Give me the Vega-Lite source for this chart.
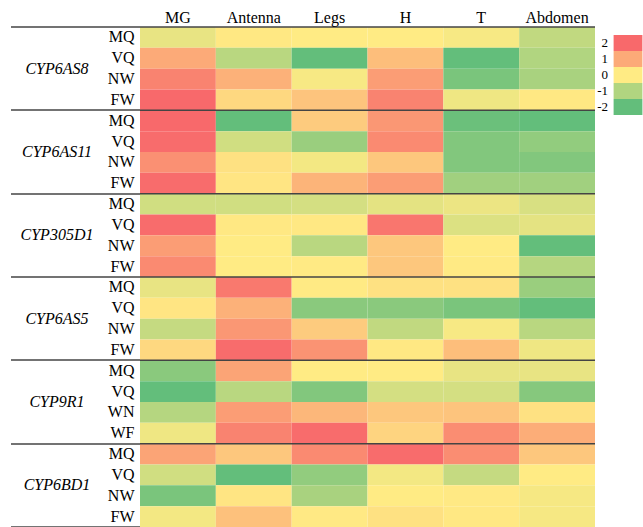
{
 "$schema": "https://vega.github.io/schema/vega-lite/v6.json",
 "autosize": {"type": "none"},
 "width": 455,
 "height": 500,
 "padding": {"left": 140, "top": 27, "right": 48, "bottom": 0},
 "background": "white",
 "config": {"view": {"stroke": null}},
 "datasets": {
  "genes": [{"g": "CYP6AS8"}, {"g": "CYP6AS11"}, {"g": "CYP305D1"}, {"g": "CYP6AS5"}, {"g": "CYP9R1"}, {"g": "CYP6BD1"}],
  "cells": [
   {"r": "CYP6AS8|MQ", "t": "MG", "v": -0.3}, {"r": "CYP6AS8|MQ", "t": "Antenna", "v": 0.05}, {"r": "CYP6AS8|MQ", "t": "Legs", "v": 0}, {"r": "CYP6AS8|MQ", "t": "H", "v": 0}, {"r": "CYP6AS8|MQ", "t": "T", "v": -0.1}, {"r": "CYP6AS8|MQ", "t": "Abdomen", "v": -0.8},
   {"r": "CYP6AS8|VQ", "t": "MG", "v": 1.0}, {"r": "CYP6AS8|VQ", "t": "Antenna", "v": -0.9}, {"r": "CYP6AS8|VQ", "t": "Legs", "v": -2}, {"r": "CYP6AS8|VQ", "t": "H", "v": 0.7}, {"r": "CYP6AS8|VQ", "t": "T", "v": -2}, {"r": "CYP6AS8|VQ", "t": "Abdomen", "v": -1.0},
   {"r": "CYP6AS8|NW", "t": "MG", "v": 1.6}, {"r": "CYP6AS8|NW", "t": "Antenna", "v": 0.9}, {"r": "CYP6AS8|NW", "t": "Legs", "v": -0.1}, {"r": "CYP6AS8|NW", "t": "H", "v": 1.2}, {"r": "CYP6AS8|NW", "t": "T", "v": -1.7}, {"r": "CYP6AS8|NW", "t": "Abdomen", "v": -1.1},
   {"r": "CYP6AS8|FW", "t": "MG", "v": 2}, {"r": "CYP6AS8|FW", "t": "Antenna", "v": 0.3}, {"r": "CYP6AS8|FW", "t": "Legs", "v": 0.6}, {"r": "CYP6AS8|FW", "t": "H", "v": 1.6}, {"r": "CYP6AS8|FW", "t": "T", "v": -0.2}, {"r": "CYP6AS8|FW", "t": "Abdomen", "v": 0.05},
   {"r": "CYP6AS11|MQ", "t": "MG", "v": 2}, {"r": "CYP6AS11|MQ", "t": "Antenna", "v": -2}, {"r": "CYP6AS11|MQ", "t": "Legs", "v": 0.5}, {"r": "CYP6AS11|MQ", "t": "H", "v": 1.3}, {"r": "CYP6AS11|MQ", "t": "T", "v": -1.9}, {"r": "CYP6AS11|MQ", "t": "Abdomen", "v": -2},
   {"r": "CYP6AS11|VQ", "t": "MG", "v": 1.95}, {"r": "CYP6AS11|VQ", "t": "Antenna", "v": -0.6}, {"r": "CYP6AS11|VQ", "t": "Legs", "v": -1.3}, {"r": "CYP6AS11|VQ", "t": "H", "v": 1.5}, {"r": "CYP6AS11|VQ", "t": "T", "v": -1.6}, {"r": "CYP6AS11|VQ", "t": "Abdomen", "v": -1.4},
   {"r": "CYP6AS11|NW", "t": "MG", "v": 1.4}, {"r": "CYP6AS11|NW", "t": "Antenna", "v": 0.15}, {"r": "CYP6AS11|NW", "t": "Legs", "v": -0.15}, {"r": "CYP6AS11|NW", "t": "H", "v": 0.55}, {"r": "CYP6AS11|NW", "t": "T", "v": -1.6}, {"r": "CYP6AS11|NW", "t": "Abdomen", "v": -1.6},
   {"r": "CYP6AS11|FW", "t": "MG", "v": 1.95}, {"r": "CYP6AS11|FW", "t": "Antenna", "v": 0.1}, {"r": "CYP6AS11|FW", "t": "Legs", "v": 0.85}, {"r": "CYP6AS11|FW", "t": "H", "v": 1.2}, {"r": "CYP6AS11|FW", "t": "T", "v": -1.2}, {"r": "CYP6AS11|FW", "t": "Abdomen", "v": -1.2},
   {"r": "CYP305D1|MQ", "t": "MG", "v": -0.6}, {"r": "CYP305D1|MQ", "t": "Antenna", "v": -0.6}, {"r": "CYP305D1|MQ", "t": "Legs", "v": -0.55}, {"r": "CYP305D1|MQ", "t": "H", "v": -0.35}, {"r": "CYP305D1|MQ", "t": "T", "v": -0.25}, {"r": "CYP305D1|MQ", "t": "Abdomen", "v": -0.5},
   {"r": "CYP305D1|VQ", "t": "MG", "v": 1.95}, {"r": "CYP305D1|VQ", "t": "Antenna", "v": 0.05}, {"r": "CYP305D1|VQ", "t": "Legs", "v": 0.05}, {"r": "CYP305D1|VQ", "t": "H", "v": 1.8}, {"r": "CYP305D1|VQ", "t": "T", "v": -0.45}, {"r": "CYP305D1|VQ", "t": "Abdomen", "v": -0.35},
   {"r": "CYP305D1|NW", "t": "MG", "v": 1.2}, {"r": "CYP305D1|NW", "t": "Antenna", "v": 0}, {"r": "CYP305D1|NW", "t": "Legs", "v": -0.9}, {"r": "CYP305D1|NW", "t": "H", "v": 0.55}, {"r": "CYP305D1|NW", "t": "T", "v": 0}, {"r": "CYP305D1|NW", "t": "Abdomen", "v": -2},
   {"r": "CYP305D1|FW", "t": "MG", "v": 1.5}, {"r": "CYP305D1|FW", "t": "Antenna", "v": 0}, {"r": "CYP305D1|FW", "t": "Legs", "v": 0.02}, {"r": "CYP305D1|FW", "t": "H", "v": 0.55}, {"r": "CYP305D1|FW", "t": "T", "v": 0.02}, {"r": "CYP305D1|FW", "t": "Abdomen", "v": -0.95},
   {"r": "CYP6AS5|MQ", "t": "MG", "v": -0.3}, {"r": "CYP6AS5|MQ", "t": "Antenna", "v": 1.75}, {"r": "CYP6AS5|MQ", "t": "Legs", "v": 0.02}, {"r": "CYP6AS5|MQ", "t": "H", "v": 0.15}, {"r": "CYP6AS5|MQ", "t": "T", "v": 0.15}, {"r": "CYP6AS5|MQ", "t": "Abdomen", "v": -1.3},
   {"r": "CYP6AS5|VQ", "t": "MG", "v": 0.1}, {"r": "CYP6AS5|VQ", "t": "Antenna", "v": 0.9}, {"r": "CYP6AS5|VQ", "t": "Legs", "v": -1.5}, {"r": "CYP6AS5|VQ", "t": "H", "v": -1.5}, {"r": "CYP6AS5|VQ", "t": "T", "v": -1.7}, {"r": "CYP6AS5|VQ", "t": "Abdomen", "v": -2},
   {"r": "CYP6AS5|NW", "t": "MG", "v": -0.75}, {"r": "CYP6AS5|NW", "t": "Antenna", "v": 1.3}, {"r": "CYP6AS5|NW", "t": "Legs", "v": 0.5}, {"r": "CYP6AS5|NW", "t": "H", "v": -0.8}, {"r": "CYP6AS5|NW", "t": "T", "v": -0.1}, {"r": "CYP6AS5|NW", "t": "Abdomen", "v": -0.9},
   {"r": "CYP6AS5|FW", "t": "MG", "v": 0.3}, {"r": "CYP6AS5|FW", "t": "Antenna", "v": 1.95}, {"r": "CYP6AS5|FW", "t": "Legs", "v": 1.35}, {"r": "CYP6AS5|FW", "t": "H", "v": 0.05}, {"r": "CYP6AS5|FW", "t": "T", "v": 0.7}, {"r": "CYP6AS5|FW", "t": "Abdomen", "v": -0.2},
   {"r": "CYP9R1|MQ", "t": "MG", "v": -1.5}, {"r": "CYP9R1|MQ", "t": "Antenna", "v": 1.1}, {"r": "CYP9R1|MQ", "t": "Legs", "v": 0}, {"r": "CYP9R1|MQ", "t": "H", "v": 0}, {"r": "CYP9R1|MQ", "t": "T", "v": -0.3}, {"r": "CYP9R1|MQ", "t": "Abdomen", "v": -0.3},
   {"r": "CYP9R1|VQ", "t": "MG", "v": -2}, {"r": "CYP9R1|VQ", "t": "Antenna", "v": -0.9}, {"r": "CYP9R1|VQ", "t": "Legs", "v": -1.6}, {"r": "CYP9R1|VQ", "t": "H", "v": -0.55}, {"r": "CYP9R1|VQ", "t": "T", "v": -0.55}, {"r": "CYP9R1|VQ", "t": "Abdomen", "v": -1.55},
   {"r": "CYP9R1|WN", "t": "MG", "v": -0.95}, {"r": "CYP9R1|WN", "t": "Antenna", "v": 1.2}, {"r": "CYP9R1|WN", "t": "Legs", "v": 0.8}, {"r": "CYP9R1|WN", "t": "H", "v": 0.55}, {"r": "CYP9R1|WN", "t": "T", "v": 0.6}, {"r": "CYP9R1|WN", "t": "Abdomen", "v": 0.15},
   {"r": "CYP9R1|WF", "t": "MG", "v": -0.2}, {"r": "CYP9R1|WF", "t": "Antenna", "v": 1.6}, {"r": "CYP9R1|WF", "t": "Legs", "v": 1.95}, {"r": "CYP9R1|WF", "t": "H", "v": 0.35}, {"r": "CYP9R1|WF", "t": "T", "v": 1.45}, {"r": "CYP9R1|WF", "t": "Abdomen", "v": 0.95},
   {"r": "CYP6BD1|MQ", "t": "MG", "v": 1.1}, {"r": "CYP6BD1|MQ", "t": "Antenna", "v": 0.55}, {"r": "CYP6BD1|MQ", "t": "Legs", "v": 1.5}, {"r": "CYP6BD1|MQ", "t": "H", "v": 1.95}, {"r": "CYP6BD1|MQ", "t": "T", "v": 1.45}, {"r": "CYP6BD1|MQ", "t": "Abdomen", "v": 0.55},
   {"r": "CYP6BD1|VQ", "t": "MG", "v": -0.6}, {"r": "CYP6BD1|VQ", "t": "Antenna", "v": -2}, {"r": "CYP6BD1|VQ", "t": "Legs", "v": -1.4}, {"r": "CYP6BD1|VQ", "t": "H", "v": -0.15}, {"r": "CYP6BD1|VQ", "t": "T", "v": -0.75}, {"r": "CYP6BD1|VQ", "t": "Abdomen", "v": 0},
   {"r": "CYP6BD1|NW", "t": "MG", "v": -1.7}, {"r": "CYP6BD1|NW", "t": "Antenna", "v": 0.1}, {"r": "CYP6BD1|NW", "t": "Legs", "v": -1.1}, {"r": "CYP6BD1|NW", "t": "H", "v": 0}, {"r": "CYP6BD1|NW", "t": "T", "v": 0.03}, {"r": "CYP6BD1|NW", "t": "Abdomen", "v": -0.12},
   {"r": "CYP6BD1|FW", "t": "MG", "v": -0.15}, {"r": "CYP6BD1|FW", "t": "Antenna", "v": 0.65}, {"r": "CYP6BD1|FW", "t": "Legs", "v": 0.03}, {"r": "CYP6BD1|FW", "t": "H", "v": 0.15}, {"r": "CYP6BD1|FW", "t": "T", "v": 0.05}, {"r": "CYP6BD1|FW", "t": "Abdomen", "v": -0.12}
  ]
 },
 "layer": [
  {
   "data": {"name": "cells"},
   "mark": {"type": "rect"},
   "encoding": {
    "x": {"field": "t", "type": "nominal", "sort": ["MG", "Antenna", "Legs", "H", "T", "Abdomen"],
          "scale": {"paddingInner": 0, "paddingOuter": 0},
          "axis": {"orient": "top", "title": null, "domain": false, "ticks": false, "tickSize": 0, "labelPadding": 2, "labelAngle": 0,
                   "labelFont": "Liberation Serif", "labelFontSize": 16, "labelColor": "black"}},
    "y": {"field": "r", "type": "nominal", "sort": null,
          "scale": {"paddingInner": 0, "paddingOuter": 0},
          "axis": {"orient": "left", "title": null, "domain": false, "ticks": false, "tickSize": 0, "labelPadding": 6,
                   "labelExpr": "split(datum.label, '|')[1]",
                   "labelFont": "Liberation Serif", "labelFontSize": 16, "labelColor": "black"}},
    "color": {"field": "v", "type": "quantitative",
              "scale": {"domain": [-2, 0, 2], "range": ["#63BE7B", "#FFEB84", "#F8696B"], "interpolate": "rgb", "clamp": true},
              "legend": {"type": "symbol", "title": null, "values": [2, 1, 0, -1, -2], "direction": "vertical",
                         "orient": "none", "legendX": 480, "legendY": 8,
                         "labelExpr": "'' + datum.value",
                         "symbolType": "M-1.8,-1H1.8V1H-1.8Z", "symbolSize": 256, "symbolStrokeWidth": 0,
                         "rowPadding": 0, "labelAlign": "right", "labelOffset": -28,
                         "labelFont": "Liberation Serif", "labelFontSize": 13, "labelColor": "black"}}
   }
  },
  {
   "data": {"name": "genes"},
   "mark": {"type": "rule", "color": "#444444", "strokeWidth": 1.5},
   "encoding": {
    "y": {"field": "g", "type": "nominal", "sort": null, "bandPosition": 0,
          "scale": {"paddingInner": 0, "paddingOuter": 0},
          "axis": {"orient": "left", "title": null, "domain": false, "ticks": true, "tickBand": "extent", "tickSize": 129,
                   "tickColor": "#444444", "tickWidth": 1.5, "translate": 0, "grid": false,
                   "labelPadding": -46, "labelAlign": "center",
                   "labelFont": "Liberation Serif", "labelFontStyle": "italic", "labelFontSize": 16, "labelColor": "black"}}
   }
  }
 ],
 "resolve": {"scale": {"y": "independent", "color": "independent"}, "axis": {"y": "independent"}}
}
